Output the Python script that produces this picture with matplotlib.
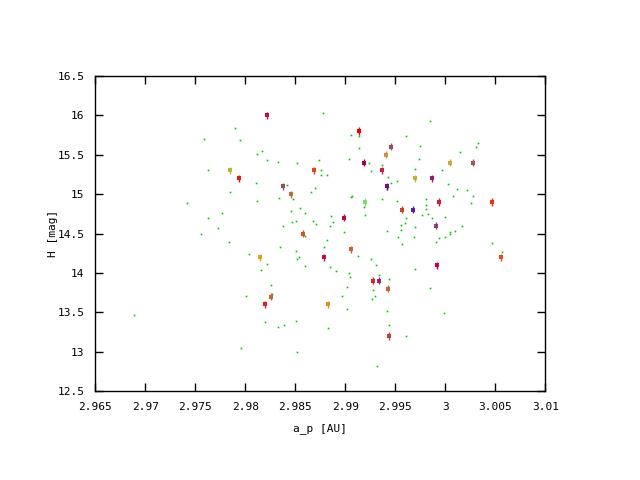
import numpy as np
import matplotlib
matplotlib.use('Agg')
import matplotlib.pyplot as plt

# background objects (green dots)
bg_a = [2.9790, 2.9759, 2.9795, 2.9812, 2.9817, 2.9822, 2.9833, 2.9852, 2.9874, 2.9763,
        2.9811, 2.9842, 2.9870, 2.9866, 2.9785, 2.9834, 2.9848, 2.9812, 2.9742, 2.9855,
        2.9846, 2.9860, 2.9777, 2.9763, 2.9851, 2.9847, 2.9868, 2.9871, 2.9838, 2.9773,
        2.9756, 2.9860,
        2.9878, 2.9985, 2.9906, 2.9914, 2.9961, 3.0033, 3.0031, 2.9914, 2.9975, 3.0015,
        2.9904, 2.9974, 2.9924, 2.9937, 2.9876, 2.9926, 2.9970, 2.9997, 2.9876, 2.9882,
        2.9943, 2.9952, 2.9946, 3.0003, 2.9943, 2.9942, 3.0012, 3.0022, 2.9907, 2.9906,
        3.0008, 3.0028, 2.9937, 2.9952, 2.9981, 3.0026, 2.9919, 2.9981, 2.9981, 2.9886,
        2.9920, 2.9983, 2.9977, 2.9961, 2.9987, 3.0000, 2.9888, 2.9960, 2.9885, 2.9956,
        2.9970, 3.0017, 3.0010, 3.0005, 3.0005, 2.9899, 2.9942, 2.9956, 2.9953, 2.9969,
        2.9994, 3.0000,
        2.9784, 2.9804, 2.9835, 2.9851, 2.9854, 2.9852, 2.9822, 2.9860, 2.9816, 2.9826,
        2.9827, 2.9801, 2.9689, 2.9820, 2.9833, 2.9839, 2.9851, 2.9796, 2.9852,
        2.9991, 2.9882, 2.9879, 2.9957, 2.9913, 2.9926, 2.9931, 2.9885, 2.9891, 2.9904,
        2.9905, 2.9934, 2.9944, 2.9970, 3.0047, 3.0057, 2.9902, 2.9928, 2.9985, 2.9930,
        2.9897, 2.9927, 2.9902, 2.9942, 2.9999, 2.9944, 2.9883, 2.9961, 2.9932]
bg_H = [15.84, 15.70, 15.69, 15.51, 15.55, 15.43, 15.41, 15.40, 15.43, 15.31,
        15.14, 15.12, 15.08, 15.03, 15.03, 14.95, 14.94, 14.91, 14.89, 14.82,
        14.79, 14.76, 14.76, 14.70, 14.66, 14.65, 14.66, 14.62, 14.60, 14.57,
        14.49, 14.47,
        16.03, 15.93, 15.75, 15.74, 15.74, 15.65, 15.60, 15.59, 15.61, 15.54,
        15.45, 15.45, 15.40, 15.37, 15.31, 15.29, 15.32, 15.31, 15.24, 15.24,
        15.22, 15.17, 15.14, 15.13, 15.09, 15.07, 15.07, 15.05, 14.98, 14.96,
        14.98, 14.98, 14.94, 14.91, 14.94, 14.89, 14.84, 14.86, 14.81, 14.72,
        14.74, 14.75, 14.74, 14.70, 14.70, 14.71, 14.65, 14.63, 14.60, 14.61,
        14.58, 14.60, 14.53, 14.52, 14.49, 14.52, 14.53, 14.54, 14.46, 14.46,
        14.44, 14.46,
        14.39, 14.24, 14.33, 14.28, 14.20, 14.18, 14.11, 14.09, 14.04, 13.85,
        13.73, 13.71, 13.47, 13.38, 13.31, 13.34, 13.39, 13.05, 13.00,
        14.39, 14.42, 14.33, 14.37, 14.22, 14.18, 14.10, 14.08, 14.03, 14.00,
        13.95, 13.97, 13.92, 14.05, 14.38, 14.27, 13.82, 13.78, 13.81, 13.71,
        13.71, 13.67, 13.54, 13.52, 13.49, 13.34, 13.30, 13.20, 12.82]

# family members (coloured points with error bars)
fam_a = [2.9822, 2.9785, 2.9794, 2.9838, 2.9846, 2.9869, 2.9858, 2.9914, 2.9919, 2.9946,
         2.9941, 2.9937, 2.9942, 2.9920, 2.9899, 2.9957, 2.9968, 2.9970, 2.9987, 2.9994,
         2.9991, 3.0005, 3.0028, 3.0047, 2.9815, 2.9826, 2.9820, 2.9879, 2.9906, 2.9883,
         2.9928, 2.9934, 2.9943, 2.9944, 2.9992, 3.0056]
fam_H = [16.0, 15.3, 15.2, 15.1, 15.0, 15.3, 14.5, 15.8, 15.4, 15.6,
         15.5, 15.3, 15.1, 14.9, 14.7, 14.8, 14.8, 15.2, 15.2, 14.9,
         14.6, 15.4, 15.4, 14.9, 14.2, 13.7, 13.6, 14.2, 14.3, 13.6,
         13.9, 13.9, 13.8, 13.2, 14.1, 14.2]
fam_col = ['#b8104a', '#b8b840', '#e81818', '#905060', '#b87040', '#d84820', '#c85830',
           '#f00000', '#a00050', '#905060', '#c89840', '#c82040', '#701080', '#80d870',
           '#b01040', '#d04028', '#5020a0', '#c0b040', '#902060', '#d02030', '#904070',
           '#c8a840', '#a05858', '#f03010', '#d8a818', '#c06838', '#e02020', '#c0104a',
           '#c86040', '#d89020', '#d02820', '#902878', '#c06838', '#c04040', '#d00040',
           '#e05020']

plt.rcParams['font.family'] = 'DejaVu Sans Mono'
fig = plt.figure(figsize=(6.4, 4.8), dpi=100, facecolor='w')
ax = fig.add_axes([0.149, 0.185, 0.703, 0.657])

ax.plot(bg_a, bg_H, 's', color='#00c000', markersize=1.2, markeredgewidth=0)
for a, h, c in zip(fam_a, fam_H, fam_col):
    ax.errorbar(a, h, yerr=0.045, fmt='s', color=c, markersize=3.0,
                markeredgewidth=0, elinewidth=1, capsize=0)

ax.set_xlim(2.965, 3.01)
ax.set_ylim(12.5, 16.5)
ax.set_xticks(np.arange(2.965, 3.0101, 0.005))
ax.set_xticklabels(['2.965', '2.97', '2.975', '2.98', '2.985', '2.99', '2.995',
                    '3', '3.005', '3.01'])
ax.set_yticks(np.arange(12.5, 16.51, 0.5))
ax.set_yticklabels(['12.5', '13', '13.5', '14', '14.5', '15', '15.5', '16', '16.5'])
ax.tick_params(direction='in', top=True, right=True, length=6, width=1,
               labelsize=8, pad=8)
for s in ax.spines.values():
    s.set_linewidth(1.0)
ax.set_xlabel('a_p [AU]', fontsize=8, labelpad=8)
ax.set_ylabel('H [mag]', fontsize=8)
ax.yaxis.set_label_coords(-0.083, 0.5)

plt.savefig('out.png', dpi=100)
